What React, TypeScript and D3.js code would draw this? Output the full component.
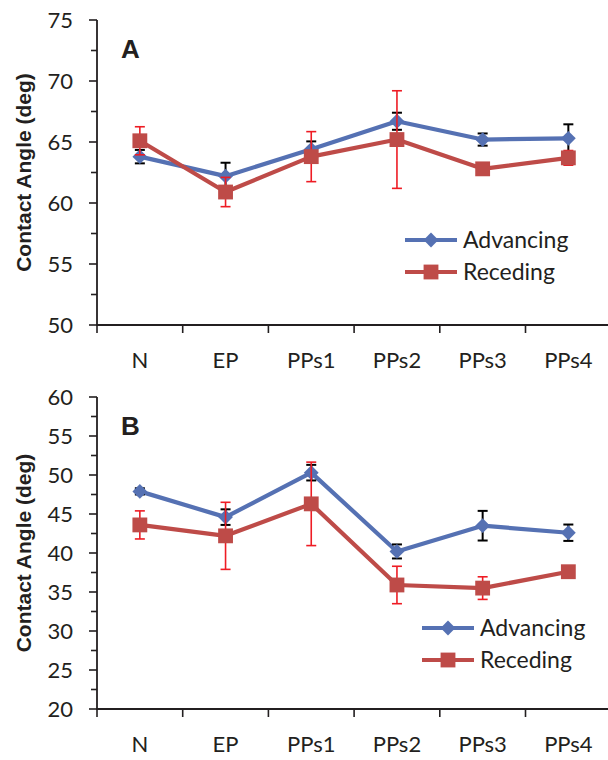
import React from "react";
import * as d3 from "d3";

const categories = ["N", "EP", "PPs1", "PPs2", "PPs3", "PPs4"];

// panel A
const advA = [63.8, 62.2, 64.4, 66.7, 65.2, 65.3];
const advAErr = [0.55, 1.1, 0.65, 0.7, 0.5, 1.15];
const recA = [65.1, 60.9, 63.8, 65.2, 62.8, 63.7];
const recAErr = [1.15, 1.2, 2.05, 4.0, 0.3, 0.6];
const ticksA = [50, 55, 60, 65, 70, 75];

// panel B
const advB = [47.9, 44.6, 50.3, 40.2, 43.5, 42.6];
const advBErr = [0.4, 1.0, 1.0, 0.9, 1.9, 1.05];
const recB = [43.6, 42.2, 46.3, 35.9, 35.5, 37.6];
const recBErr = [1.8, 4.3, 5.35, 2.4, 1.45, 0.6];
const ticksB = [20, 25, 30, 35, 40, 45, 50, 55, 60];

const BLUE = "#5571b3";
const RED = "#be4b48";
const TXT = "#231f20";
const tickFont = "Lato, 'Open Sans', sans-serif";
const boldFont = "'Liberation Sans', Arial, sans-serif";

const diamond = d3.symbol(d3.symbolSquare, 110)();
const square = d3.symbol(d3.symbolSquare, 220)();

function Series({ x, y, vals, errs, color, errColor, shape, rotate }) {
  const line = d3
    .line<number>()
    .x((_, i) => x(categories[i])! + x.bandwidth() / 2)
    .y((d) => y(d));
  return (
    <g>
      <path d={line(vals)!} fill="none" stroke={color} strokeWidth={4.2} strokeLinejoin="round" />
      {vals.map((v, i) => {
        const cx = x(categories[i])! + x.bandwidth() / 2;
        const y0 = y(v + errs[i]);
        const y1 = y(v - errs[i]);
        return (
          <g key={"e" + i} stroke={errColor} strokeWidth={errColor === "#000" ? 2 : 1.6}>
            <line x1={cx} x2={cx} y1={y0} y2={y1} />
            <line x1={cx - 5} x2={cx + 5} y1={y0} y2={y0} />
            <line x1={cx - 5} x2={cx + 5} y1={y1} y2={y1} />
          </g>
        );
      })}
      {vals.map((v, i) => (
        <path
          key={"m" + i}
          d={shape}
          fill={color}
          transform={`translate(${x(categories[i])! + x.bandwidth() / 2},${y(v)}) rotate(${rotate})`}
        />
      ))}
    </g>
  );
}

function Panel({ letter, domain, top, bottom, ticks, adv, advErr, rec, recErr, legendX, legendY }) {
  const x = d3.scaleBand<string>().domain(categories).range([97, 611.2]).padding(0);
  const y = d3.scaleLinear().domain(domain).range([bottom, top]);
  const minor = d3.range(domain[0] + 2.5, domain[1], 5);
  const bounds = d3.range(categories.length + 1).map((i) => 97 + i * x.step());
  const titleY = (top + bottom) / 2;
  return (
    <g>
      {/* y axis */}
      <line x1={97} x2={97} y1={top} y2={bottom} stroke={TXT} strokeWidth={1.8} />
      {ticks.map((t) => (
        <g key={t}>
          <line x1={89} x2={97} y1={y(t)} y2={y(t)} stroke={TXT} strokeWidth={1.6} />
          <text x={73} y={y(t)} dy="0.36em" textAnchor="end" fontFamily={tickFont} fontSize={22} fill={TXT}>
            {t}
          </text>
        </g>
      ))}
      {minor.map((t) => (
        <line key={"m" + t} x1={91} x2={97} y1={y(t)} y2={y(t)} stroke={TXT} strokeWidth={1.6} />
      ))}
      {/* x axis */}
      <line x1={96} x2={611} y1={bottom} y2={bottom} stroke={TXT} strokeWidth={1.8} />
      {bounds.map((b, i) => (
        <line key={"b" + i} x1={b} x2={b} y1={bottom} y2={bottom + 8} stroke={TXT} strokeWidth={1.6} />
      ))}
      {categories.map((c) => (
        <text
          key={c}
          x={x(c)! + x.bandwidth() / 2}
          y={bottom + 43}
          textAnchor="middle"
          fontFamily={tickFont}
          fontSize={22}
          fill={TXT}
        >
          {c}
        </text>
      ))}
      <text
        transform={`translate(31,${titleY}) rotate(-90)`}
        textAnchor="middle"
        fontFamily={boldFont}
        fontWeight="bold"
        fontSize={21}
        fill={TXT}
      >
        Contact Angle (deg)
      </text>
      <text x={121} y={top + 38} fontFamily={boldFont} fontWeight="bold" fontSize={26} fill={TXT}>
        {letter}
      </text>

      <Series x={x} y={y} vals={adv} errs={advErr} color={BLUE} errColor="#000" shape={diamond} rotate={45} />
      <Series x={x} y={y} vals={rec} errs={recErr} color={RED} errColor="#ee1c24" shape={square} rotate={0} />

      {/* legend */}
      {[
        { name: "Advancing", color: BLUE, shape: diamond, rot: 45 },
        { name: "Receding", color: RED, shape: square, rot: 0 },
      ].map((s, i) => {
        const ly = legendY + i * 32;
        return (
          <g key={s.name}>
            <line x1={legendX} x2={legendX + 52} y1={ly} y2={ly} stroke={s.color} strokeWidth={4.2} />
            <path d={s.shape} fill={s.color} transform={`translate(${legendX + 26},${ly}) rotate(${s.rot})`} />
            <text x={legendX + 58} y={ly} dy="0.36em" fontFamily={tickFont} fontSize={23} fill={TXT}>
              {s.name}
            </text>
          </g>
        );
      })}
    </g>
  );
}

export default function App() {
  return (
    <svg
      width={608}
      height={760}
      style={{ position: "absolute", left: 0, top: 0, background: "#fff" }}
    >
      <Panel
        letter="A"
        domain={[50, 75]}
        top={20}
        bottom={325}
        ticks={ticksA}
        adv={advA}
        advErr={advAErr}
        rec={recA}
        recErr={recAErr}
        legendX={405}
        legendY={240}
      />
      <Panel
        letter="B"
        domain={[20, 60]}
        top={397}
        bottom={709}
        ticks={ticksB}
        adv={advB}
        advErr={advBErr}
        rec={recB}
        recErr={recBErr}
        legendX={422}
        legendY={628}
      />
    </svg>
  );
}
